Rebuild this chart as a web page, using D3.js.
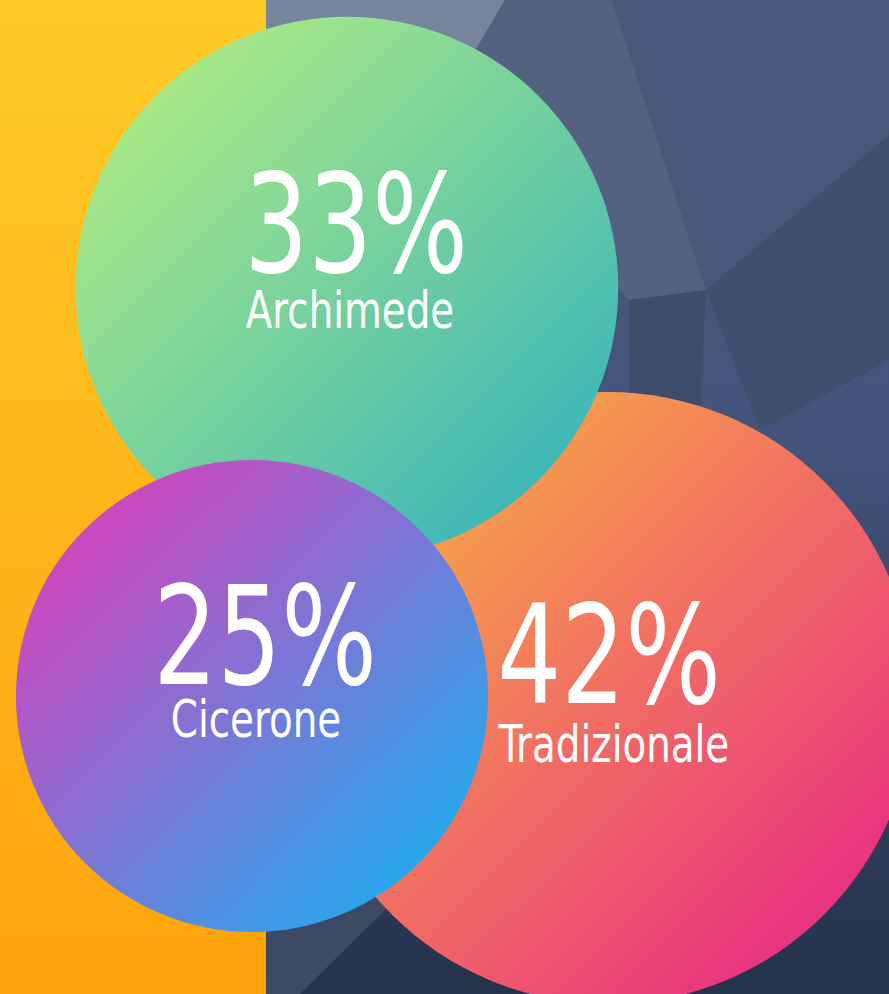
<!DOCTYPE html>
<html>
<head>
  <meta charset="utf-8">
  <title>Archimede Cicerone Tradizionale</title>
  <style type="text/css">
  body { margin: 0; background: #2b3852; }
  svg { display: block; }
  .pct, .lbl {
    fill: #fff;
    font-family: "Liberation Sans Narrow", "DejaVu Sans Condensed", "Roboto", sans-serif;
    font-stretch: condensed;
    text-anchor: middle;
  }
  </style>
</head>
<body>
<script src="https://d3js.org/d3.v7.min.js"></script>
<div id="chart"></div>
<script>

// data
var categories = ["Archimede", "Cicerone", "Tradizionale"];
var shares = [33, 25, 42];
var percentLabels = ["33%", "25%", "42%"];

var width = 889,
    height = 994;

var svg = d3.select("#chart")
  .append("svg")
    .attr("width", width)
    .attr("height", height);

var defs = svg.append("defs");

// gradients
function linGrad(id, x2, y2, stops) {
  var g = defs.append("linearGradient")
    .attr("id", id)
    .attr("x1", 0).attr("y1", 0)
    .attr("x2", x2).attr("y2", y2);
  stops.forEach(function(s) {
    g.append("stop").attr("offset", s[0]).attr("stop-color", s[1]);
  });
}

linGrad("gYellow", 0, 1, [[0, "#fdca26"], [1, "#fea30c"]]);
linGrad("gDark", 0, 1, [[0, "#4d5c7b"], [0.45, "#43537a"], [1, "#25324b"]]);
linGrad("g-Archimede", 1, 1, [[0.15, "#a7e886"], [0.85, "#40b8b7"]]);
linGrad("g-Cicerone", 1, 1, [[0.15, "#cc48bf"], [0.85, "#2aa5ec"]]);
linGrad("g-Tradizionale", 1, 1, [[0.15, "#f8a847"], [0.85, "#e9347f"]]);

// dark low-poly panel on the right
var splitX = 266;
svg.append("rect")
  .attr("x", splitX).attr("y", 0)
  .attr("width", width - splitX).attr("height", height)
  .attr("fill", "url(#gDark)");

var facets = [
  { pts: [[266,0],[505,0],[455,85],[266,95]], fill: "#77859c" },
  { pts: [[505,0],[612,0],[706,290],[629,300],[455,85]], fill: "#53627e" },
  { pts: [[612,0],[889,0],[889,135],[706,290]], fill: "#485878" },
  { pts: [[706,290],[889,135],[889,360],[760,430]], fill: "#3f4f6e" },
  { pts: [[629,300],[706,290],[700,420],[630,420]], fill: "#3f4d6b" },
  { pts: [[266,880],[395,900],[300,994],[266,994]], fill: "#3d4a65" }
];

svg.append("g")
  .selectAll("polygon")
  .data(facets)
  .enter()
  .append("polygon")
    .attr("points", function(d) { return d.pts.join(" "); })
    .attr("fill", function(d) { return d.fill; });

// yellow strip on the left
svg.append("rect")
  .attr("x", 0).attr("y", 0)
  .attr("width", splitX).attr("height", height)
  .attr("fill", "url(#gYellow)");

// bubbles: area follows the share
var rScale = d3.scaleSqrt()
  .domain([0, d3.max(shares)])
  .range([0, 306]);

var cxScale = d3.scaleOrdinal().domain(categories).range([347, 252, 608]);
var cyScale = d3.scaleOrdinal().domain(categories).range([288, 696, 698]);
// where the two text lines sit inside each bubble
var pctDx = d3.scaleOrdinal().domain(categories).range([9, 13, 1]);
var pctDy = d3.scaleOrdinal().domain(categories).range([-16, -12, 5]);
var lblDx = d3.scaleOrdinal().domain(categories).range([3, 4, 6]);
var lblDy = d3.scaleOrdinal().domain(categories).range([40, 41, 64]);

var drawOrder = ["Tradizionale", "Archimede", "Cicerone"];

var rows = categories.map(function(c, i) {
  return { name: c, value: shares[i], pct: percentLabels[i] };
}).sort(function(a, b) {
  return drawOrder.indexOf(a.name) - drawOrder.indexOf(b.name);
});

var bubble = svg.append("g")
  .selectAll("g")
  .data(rows)
  .enter()
  .append("g")
    .attr("transform", function(d) {
      return "translate(" + cxScale(d.name) + "," + cyScale(d.name) + ")";
    });

bubble.append("circle")
  .attr("r", function(d) { return rScale(d.value); })
  .attr("fill", function(d) { return "url(#g-" + d.name + ")"; });

// squeeze the text a bit, the font here is wider than the original one
bubble.append("text")
  .attr("class", "pct")
  .attr("transform", function(d) {
    return "translate(" + pctDx(d.name) + "," + pctDy(d.name) + ") scale(0.81,1)";
  })
  .style("font-size", "138px")
  .text(function(d) { return d.pct; });

bubble.append("text")
  .attr("class", "lbl")
  .attr("transform", function(d) {
    return "translate(" + lblDx(d.name) + "," + lblDy(d.name) + ") scale(0.83,1)";
  })
  .style("font-size", "52px")
  .text(function(d) { return d.name; });

</script>
</body>
</html>
